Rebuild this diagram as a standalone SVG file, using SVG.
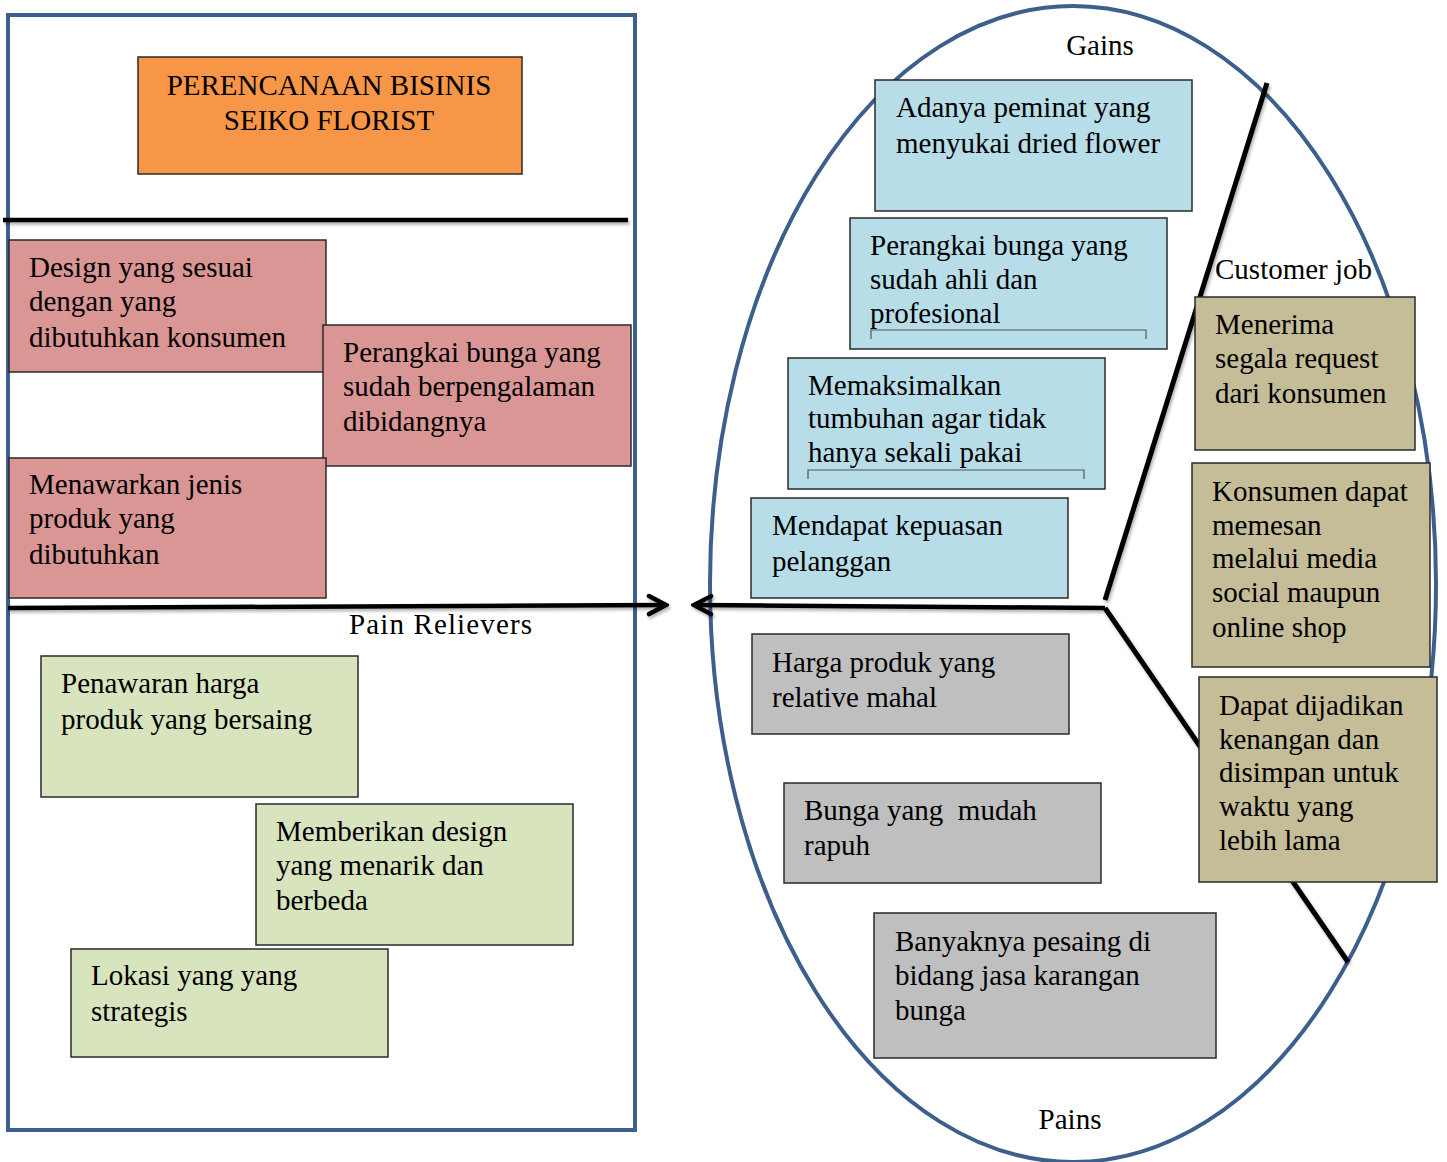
<svg xmlns="http://www.w3.org/2000/svg" width="1447" height="1162" viewBox="0 0 1447 1162">
<defs>
<style>
text{font-family:"Liberation Serif","Times New Roman",serif;font-size:29px;fill:#000}
.frame{fill:none;stroke:#3C5F8E;stroke-width:4}
.ln{fill:none;stroke:#000;stroke-width:4.5;stroke-linecap:butt}
.box{stroke:#2a2a2a;stroke-width:1.5}
.pink{fill:#D99694}.green{fill:#D7E4BD}.blue{fill:#B7DDE8}.gray{fill:#BFBFBF}.tan{fill:#C4BD97}.orange{fill:#F79646}
.brk{fill:none;stroke:#555;stroke-width:1.2}
</style>
<filter id="sh" x="-5%" y="-5%" width="110%" height="110%">
<feDropShadow dx="1.5" dy="2.5" stdDeviation="1.5" flood-color="#000" flood-opacity="0.3"/>
</filter>
<marker id="chev" viewBox="0 0 24 24" markerWidth="24" markerHeight="24" refX="21" refY="12" orient="auto" markerUnits="userSpaceOnUse">
<path d="M4,3 L21,12 L4,21" fill="none" stroke="#000" stroke-width="4.5" stroke-linecap="round" stroke-linejoin="miter"/>
</marker>
</defs>
<rect width="1447" height="1162" fill="#fff"/>
<g id="frames">
<rect class="frame" x="8" y="15" width="627" height="1115" style="fill:#fff"/>
<ellipse class="frame" cx="1073" cy="584" rx="363" ry="578"/>
</g>
<g id="connectors" filter="url(#sh)">
<line class="ln" x1="3" y1="220" x2="628" y2="220"/>
<line class="ln" x1="8" y1="608" x2="666" y2="605" marker-end="url(#chev)"/>
<line class="ln" x1="1105" y1="608" x2="694" y2="605" marker-end="url(#chev)"/>
<line class="ln" style="stroke-width:5" x1="1105" y1="600" x2="1267" y2="83"/>
<line class="ln" style="stroke-width:5" x1="1105" y1="608" x2="1348" y2="962"/>
</g>
<g id="title">
<rect class="box orange" x="138" y="57" width="384" height="117"/>
<text x="329" y="95" text-anchor="middle">PERENCANAAN BISINIS</text>
<text x="329" y="130" text-anchor="middle">SEIKO FLORIST</text>
</g>
<g id="labels">
<text id="pain-relievers" x="349" y="634" textLength="183" lengthAdjust="spacing">Pain Relievers</text>
<text id="gains" x="1100" y="55" text-anchor="middle">Gains</text>
<text id="customer-job" x="1215" y="279">Customer job</text>
<text id="pains" x="1070" y="1129" text-anchor="middle">Pains</text>
</g>
<g id="p1"><rect class="box pink" x="9" y="240" width="317" height="132"/>
<text x="29" y="277">Design yang sesuai</text><text x="29" y="311">dengan yang</text><text x="29" y="347">dibutuhkan konsumen</text></g>
<g id="p2"><rect class="box pink" x="323" y="325" width="308" height="141"/>
<text x="343" y="362">Perangkai bunga yang</text><text x="343" y="396">sudah berpengalaman</text><text x="343" y="431">dibidangnya</text></g>
<g id="p3"><rect class="box pink" x="9" y="458" width="317" height="140"/>
<text x="29" y="494">Menawarkan jenis</text><text x="29" y="528">produk yang</text><text x="29" y="564">dibutuhkan</text></g>
<g id="r1"><rect class="box green" x="41" y="656" width="317" height="141"/>
<text x="61" y="693">Penawaran harga</text><text x="61" y="729">produk yang bersaing</text></g>
<g id="r2"><rect class="box green" x="256" y="804" width="317" height="141"/>
<text x="276" y="841">Memberikan design</text><text x="276" y="875">yang menarik dan</text><text x="276" y="910">berbeda</text></g>
<g id="r3"><rect class="box green" x="71" y="949" width="317" height="108"/>
<text x="91" y="985">Lokasi yang yang</text><text x="91" y="1021">strategis</text></g>
<g id="g1"><rect class="box blue" x="875" y="80" width="317" height="131"/>
<text x="896" y="117">Adanya peminat yang</text><text x="896" y="153">menyukai dried flower</text></g>
<g id="g2"><rect class="box blue" x="850" y="218" width="317" height="131"/>
<text x="870" y="255">Perangkai bunga yang</text><text x="870" y="289">sudah ahli dan</text><text x="870" y="323">profesional</text>
<path class="brk" d="M871,339 V330 H1146 V339"/></g>
<g id="g3"><rect class="box blue" x="788" y="358" width="317" height="131"/>
<text x="808" y="395">Memaksimalkan</text><text x="808" y="428">tumbuhan agar tidak</text><text x="808" y="462">hanya sekali pakai</text>
<path class="brk" d="M808,479 V470 H1084 V479"/></g>
<g id="g4"><rect class="box blue" x="751" y="498" width="317" height="100"/>
<text x="772" y="535">Mendapat kepuasan</text><text x="772" y="571">pelanggan</text></g>
<g id="n1"><rect class="box gray" x="752" y="634" width="317" height="100"/>
<text x="772" y="672">Harga produk yang</text><text x="772" y="707">relative mahal</text></g>
<g id="n2"><rect class="box gray" x="784" y="783" width="317" height="100"/>
<text x="804" y="820" xml:space="preserve">Bunga yang  mudah</text><text x="804" y="855">rapuh</text></g>
<g id="n3"><rect class="box gray" x="874" y="913" width="342" height="145"/>
<text x="895" y="951">Banyaknya pesaing di</text><text x="895" y="985">bidang jasa karangan</text><text x="895" y="1020">bunga</text></g>
<g id="j1"><rect class="box tan" x="1195" y="297" width="220" height="153"/>
<text x="1215" y="334">Menerima</text><text x="1215" y="368">segala request</text><text x="1215" y="403">dari konsumen</text></g>
<g id="j2"><rect class="box tan" x="1192" y="463" width="238" height="204"/>
<text x="1212" y="501">Konsumen dapat</text><text x="1212" y="535">memesan</text><text x="1212" y="568">melalui media</text><text x="1212" y="602">social maupun</text><text x="1212" y="637">online shop</text></g>
<g id="j3"><rect class="box tan" x="1199" y="677" width="238" height="205"/>
<text x="1219" y="715">Dapat dijadikan</text><text x="1219" y="749">kenangan dan</text><text x="1219" y="782">disimpan untuk</text><text x="1219" y="816">waktu yang</text><text x="1219" y="850">lebih lama</text></g>
</svg>
